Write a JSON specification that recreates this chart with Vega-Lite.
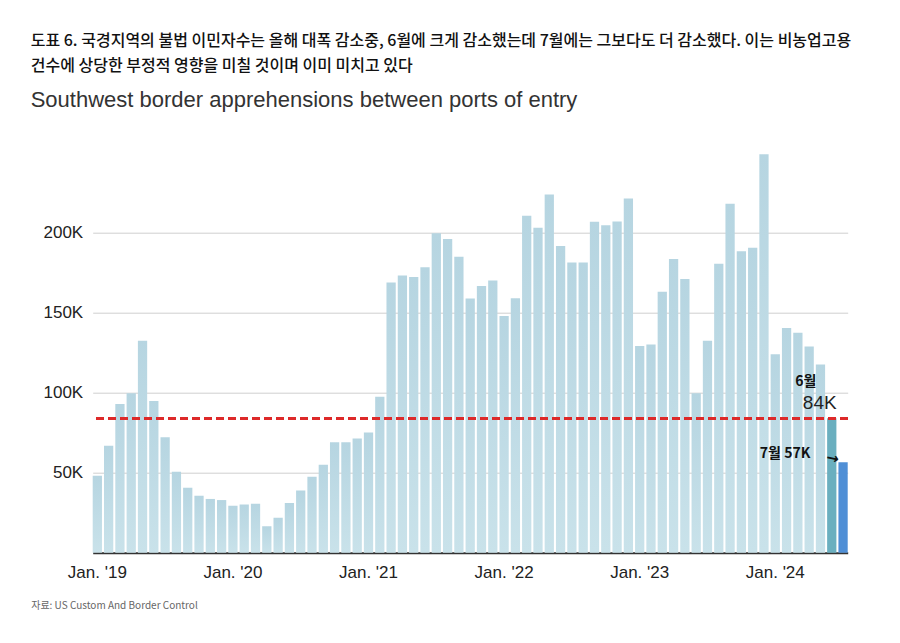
{
  "$schema": "https://vega.github.io/schema/vega-lite/v6.json",
  "width": 755,
  "height": 400,
  "autosize": {"type": "none"},
  "padding": {"left": 92.7, "top": 152.7, "right": 52.3, "bottom": 90.3},
  "background": "white",
  "title": {
    "text": ["도표 6. 국경지역의 불법 이민자수는 올해 대폭 감소중, 6월에 크게 감소했는데 7월에는 그보다도 더 감소했다. 이는 비농업고용", "건수에 상당한 부정적 영향을 미칠 것이며 이미 미치고 있다"],
    "subtitle": "Southwest border apprehensions between ports of entry",
    "anchor": "start",
    "frame": "group",
    "dx": -62,
    "offset": 42,
    "font": "Noto Sans CJK KR",
    "fontSize": 16,
    "fontWeight": 500,
    "lineHeight": 25,
    "color": "#111",
    "subtitleFont": "Liberation Sans",
    "subtitleFontSize": 22,
    "subtitleColor": "#333",
    "subtitlePadding": 16
  },
  "datasets": {
    "monthly": [
      {"month": "2019-01", "value": 48100, "kind": "base"},
      {"month": "2019-02", "value": 66900, "kind": "base"},
      {"month": "2019-03", "value": 92900, "kind": "base"},
      {"month": "2019-04", "value": 99600, "kind": "base"},
      {"month": "2019-05", "value": 132500, "kind": "base"},
      {"month": "2019-06", "value": 94800, "kind": "base"},
      {"month": "2019-07", "value": 72100, "kind": "base"},
      {"month": "2019-08", "value": 50600, "kind": "base"},
      {"month": "2019-09", "value": 40600, "kind": "base"},
      {"month": "2019-10", "value": 35600, "kind": "base"},
      {"month": "2019-11", "value": 33600, "kind": "base"},
      {"month": "2019-12", "value": 32900, "kind": "base"},
      {"month": "2020-01", "value": 29400, "kind": "base"},
      {"month": "2020-02", "value": 30200, "kind": "base"},
      {"month": "2020-03", "value": 30600, "kind": "base"},
      {"month": "2020-04", "value": 16500, "kind": "base"},
      {"month": "2020-05", "value": 21900, "kind": "base"},
      {"month": "2020-06", "value": 31100, "kind": "base"},
      {"month": "2020-07", "value": 38800, "kind": "base"},
      {"month": "2020-08", "value": 47500, "kind": "base"},
      {"month": "2020-09", "value": 55000, "kind": "base"},
      {"month": "2020-10", "value": 69000, "kind": "base"},
      {"month": "2020-11", "value": 69000, "kind": "base"},
      {"month": "2020-12", "value": 71300, "kind": "base"},
      {"month": "2021-01", "value": 75200, "kind": "base"},
      {"month": "2021-02", "value": 97500, "kind": "base"},
      {"month": "2021-03", "value": 168800, "kind": "base"},
      {"month": "2021-04", "value": 173300, "kind": "base"},
      {"month": "2021-05", "value": 172300, "kind": "base"},
      {"month": "2021-06", "value": 178400, "kind": "base"},
      {"month": "2021-07", "value": 199600, "kind": "base"},
      {"month": "2021-08", "value": 196100, "kind": "base"},
      {"month": "2021-09", "value": 185000, "kind": "base"},
      {"month": "2021-10", "value": 158800, "kind": "base"},
      {"month": "2021-11", "value": 166700, "kind": "base"},
      {"month": "2021-12", "value": 170200, "kind": "base"},
      {"month": "2022-01", "value": 147900, "kind": "base"},
      {"month": "2022-02", "value": 159000, "kind": "base"},
      {"month": "2022-03", "value": 210600, "kind": "base"},
      {"month": "2022-04", "value": 203100, "kind": "base"},
      {"month": "2022-05", "value": 223800, "kind": "base"},
      {"month": "2022-06", "value": 191700, "kind": "base"},
      {"month": "2022-07", "value": 181300, "kind": "base"},
      {"month": "2022-08", "value": 181300, "kind": "base"},
      {"month": "2022-09", "value": 206900, "kind": "base"},
      {"month": "2022-10", "value": 204700, "kind": "base"},
      {"month": "2022-11", "value": 207000, "kind": "base"},
      {"month": "2022-12", "value": 221300, "kind": "base"},
      {"month": "2023-01", "value": 129200, "kind": "base"},
      {"month": "2023-02", "value": 130200, "kind": "base"},
      {"month": "2023-03", "value": 163100, "kind": "base"},
      {"month": "2023-04", "value": 183600, "kind": "base"},
      {"month": "2023-05", "value": 171100, "kind": "base"},
      {"month": "2023-06", "value": 99600, "kind": "base"},
      {"month": "2023-07", "value": 132500, "kind": "base"},
      {"month": "2023-08", "value": 180600, "kind": "base"},
      {"month": "2023-09", "value": 218100, "kind": "base"},
      {"month": "2023-10", "value": 188400, "kind": "base"},
      {"month": "2023-11", "value": 190600, "kind": "base"},
      {"month": "2023-12", "value": 249000, "kind": "base"},
      {"month": "2024-01", "value": 124000, "kind": "base"},
      {"month": "2024-02", "value": 140400, "kind": "base"},
      {"month": "2024-03", "value": 137500, "kind": "base"},
      {"month": "2024-04", "value": 128800, "kind": "base"},
      {"month": "2024-05", "value": 117700, "kind": "base"},
      {"month": "2024-06", "value": 84000, "kind": "June"},
      {"month": "2024-07", "value": 56500, "kind": "July"}
    ]
  },
  "data": {"name": "monthly"},
  "encoding": {
    "x": {
      "field": "month",
      "type": "ordinal",
      "scale": {"paddingInner": 0.18, "paddingOuter": 0},
      "axis": {
        "title": "자료: US Custom And Border Control",
        "titleAnchor": "start",
        "titleX": -62,
        "titleY": 53,
        "titleBaseline": "middle",
        "titleFont": "Noto Sans CJK KR",
        "titleFontSize": 10,
        "titleFontWeight": "normal",
        "titleColor": "#666",
        "labelExpr": "substring(datum.value,5,7)=='01' ? \"Jan. '\" + substring(datum.value,2,4) : ''",
        "labelAngle": 0,
        "labelOverlap": false,
        "labelBound": false,
        "labelFont": "Liberation Sans",
        "labelFontSize": 17,
        "labelColor": "#222",
        "labelPadding": 12,
        "ticks": false,
        "grid": false,
        "domain": true,
        "domainColor": "#333",
        "domainWidth": 2
      }
    },
    "y": {
      "field": "value",
      "type": "quantitative",
      "scale": {"domain": [0, 250000], "nice": false},
      "axis": {
        "title": null,
        "values": [50000, 100000, 150000, 200000],
        "labelExpr": "datum.value/1000 + 'K'",
        "labelFont": "Liberation Sans",
        "labelFontSize": 17,
        "labelColor": "#222",
        "labelPadding": 10,
        "ticks": false,
        "domain": false,
        "grid": true,
        "gridColor": "#cfcfcf",
        "gridWidth": 1
      }
    }
  },
  "layer": [
    {
      "transform": [{"filter": "datum.kind == 'base'"}],
      "mark": {
        "type": "bar",
        "color": {
          "gradient": "linear",
          "x1": 0, "y1": 0, "x2": 0, "y2": 1,
          "stops": [
            {"offset": 0, "color": "#b6d5e1"},
            {"offset": 1, "color": "#c9e2ea"}
          ]
        }
      }
    },
    {
      "transform": [{"filter": "datum.kind != 'base'"}],
      "mark": {"type": "bar"},
      "encoding": {
        "color": {
          "field": "kind",
          "type": "nominal",
          "scale": {"domain": ["June", "July"], "range": ["#6aafbf", "#4f8fd6"]},
          "legend": null
        }
      }
    },
    {
      "mark": {"type": "rule", "color": "#dd2a2a", "strokeWidth": 2.2, "strokeDash": [7, 5]},
      "encoding": {"y": {"datum": 84000}, "x": null}
    },
    {
      "transform": [{"filter": "datum.month == '2024-06'"}],
      "mark": {"type": "text", "text": "6월", "dx": -26, "dy": -36, "font": "Noto Sans CJK KR", "fontWeight": "bold", "fontSize": 14, "color": "#111", "baseline": "middle", "align": "center"}
    },
    {
      "transform": [{"filter": "datum.month == '2024-06'"}],
      "mark": {"type": "text", "text": "84K", "dx": -12, "dy": -15, "font": "Liberation Sans", "fontSize": 19, "color": "#222", "baseline": "middle", "align": "center"}
    },
    {
      "transform": [{"filter": "datum.month == '2024-07'"}],
      "mark": {"type": "text", "text": "7월 57K", "dx": -58, "dy": -8, "font": "Noto Sans CJK KR", "fontWeight": "bold", "fontSize": 14, "color": "#111", "baseline": "middle", "align": "center"}
    },
    {
      "transform": [{"filter": "datum.month == '2024-07'"}],
      "mark": {"type": "text", "text": "→", "dx": -11, "dy": -2, "angle": 12, "font": "DejaVu Sans", "fontWeight": "bold", "fontSize": 15, "color": "#111", "baseline": "middle", "align": "center"}
    }
  ],
  "config": {"view": {"stroke": null}}
}
